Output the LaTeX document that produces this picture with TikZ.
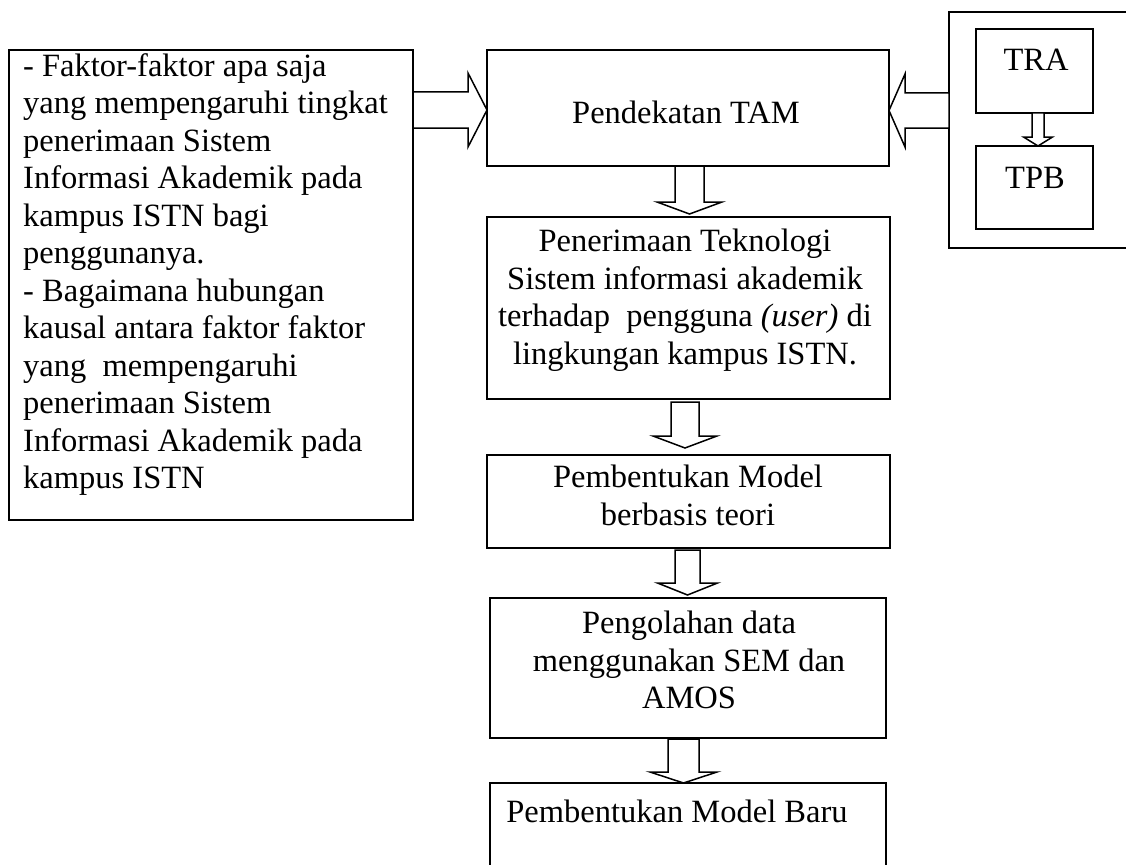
\documentclass[tikz,border=0pt]{standalone}
\usepackage{fontspec}
\setmainfont{Liberation Serif}
\usetikzlibrary{calc}

% hollow block arrow pointing down, from the bottom of one box to the top of another
% #1 from, #2 to, #3 x of centre line, #4 half shaft, #5 half head, #6 head length,
% #7 gap below the upper box, #8 gap above the lower box
\newcommand\blkdown[8]{%
  \draw[blk] let \p1=(#1.south), \p2=(#2.north) in
    (#3pt-#4pt,\y1-#7pt) -- (#3pt-#4pt,\y2+#8pt+#6pt) -- (#3pt-#5pt,\y2+#8pt+#6pt)
    -- (#3pt,\y2+#8pt) -- (#3pt+#5pt,\y2+#8pt+#6pt) -- (#3pt+#4pt,\y2+#8pt+#6pt)
    -- (#3pt+#4pt,\y1-#7pt) -- cycle;}

% hollow block arrow running sideways between two anchors
% #1 start anchor, #2 tip anchor, #3 row, #4 half shaft, #5 half head, #6 signed head length
\newcommand\blkside[6]{%
  \draw[blk] let \p1=(#1), \p2=(#2) in
    (\x1,-#3pt+#4pt) -- (\x2-#6pt,-#3pt+#4pt) -- (\x2-#6pt,-#3pt+#5pt) -- (\x2,-#3pt)
    -- (\x2-#6pt,-#3pt-#5pt) -- (\x2-#6pt,-#3pt-#4pt) -- (\x1,-#3pt-#4pt) -- cycle;}

\begin{document}
\begin{tikzpicture}[x=1pt,y=-1pt,
  box/.style={draw,line width=2pt,inner sep=0pt,outer sep=0pt},
  blk/.style={draw,line width=1.5pt,fill=white,line join=miter},
  lbl/.style={inner sep=0pt,font=\fontsize{32.5}{37.5}\selectfont,align=center}]
\fill[white] (0,0) rectangle (1126,864);
\useasboundingbox (0,0) rectangle (1126,864);

% boxes
\node[box,minimum width=404pt,minimum height=470pt] (quest) at (211,285) {};
\node[box,minimum width=402pt,minimum height=116pt] (tam) at (688,108) {};
\node[box,minimum width=191pt,minimum height=236pt] (theo) at (1044.5,130) {};
\node[box,minimum width=117pt,minimum height=84pt] (tra) at (1034.5,71) {};
\node[box,minimum width=117pt,minimum height=83pt] (tpb) at (1034.5,187.5) {};
\node[box,minimum width=403pt,minimum height=182pt] (accept) at (688.5,308) {};
\node[box,minimum width=403pt,minimum height=93pt] (model) at (688.5,501.5) {};
\node[box,minimum width=396pt,minimum height=140pt] (proc) at (688,668) {};
\node[box,minimum width=396pt,minimum height=100pt] (newm) at (688,833) {};

% texts
\node[lbl,anchor=north west,align=left] (questtxt) at (23,53)
  {- Faktor-faktor apa saja\\yang mempengaruhi tingkat\\penerimaan Sistem\\Informasi Akademik pada\\kampus ISTN bagi\\penggunanya.\\- Bagaimana hubungan\\kausal antara faktor faktor\\yang\ \ mempengaruhi\\penerimaan Sistem\\Informasi Akademik pada\\kampus ISTN};
\node[lbl,anchor=base] (tamtxt) at (686,124) {Pendekatan TAM};
\node[lbl,anchor=base] (tratxt) at (1036,71) {TRA};
\node[lbl,anchor=base] (tpbtxt) at (1035,188) {TPB};
\node[lbl,anchor=north] (accepttxt) at (685,229)
  {Penerimaan Teknologi\\Sistem informasi akademik\\terhadap\ \ pengguna \textit{(user)} di\\lingkungan kampus ISTN.};
\node[lbl,anchor=north] (modeltxt) at (688,465) {Pembentukan Model\\berbasis teori};
\node[lbl,anchor=north] (proctxt) at (689,611) {Pengolahan data\\menggunakan SEM dan\\AMOS};
\node[lbl,anchor=base] (newmtxt) at (677,822) {Pembentukan Model Baru};

% block arrows
\blkside{quest.east}{tam.west}{110}{18}{37}{19}
\blkside{theo.west}{tam.east}{110.5}{17.5}{36.5}{-16}
\blkdown{tra}{tpb}{1038}{6}{14.5}{9}{0}{0}
\blkdown{tam}{accept}{689.5}{14.5}{32.5}{12}{0}{3}
\blkdown{accept}{model}{685}{14}{32}{12}{3}{7}
\blkdown{model}{proc}{687.5}{12.5}{30}{12}{2}{3}
\blkdown{proc}{newm}{683.5}{15.5}{33.5}{11}{1}{0}
\end{tikzpicture}
\end{document}
